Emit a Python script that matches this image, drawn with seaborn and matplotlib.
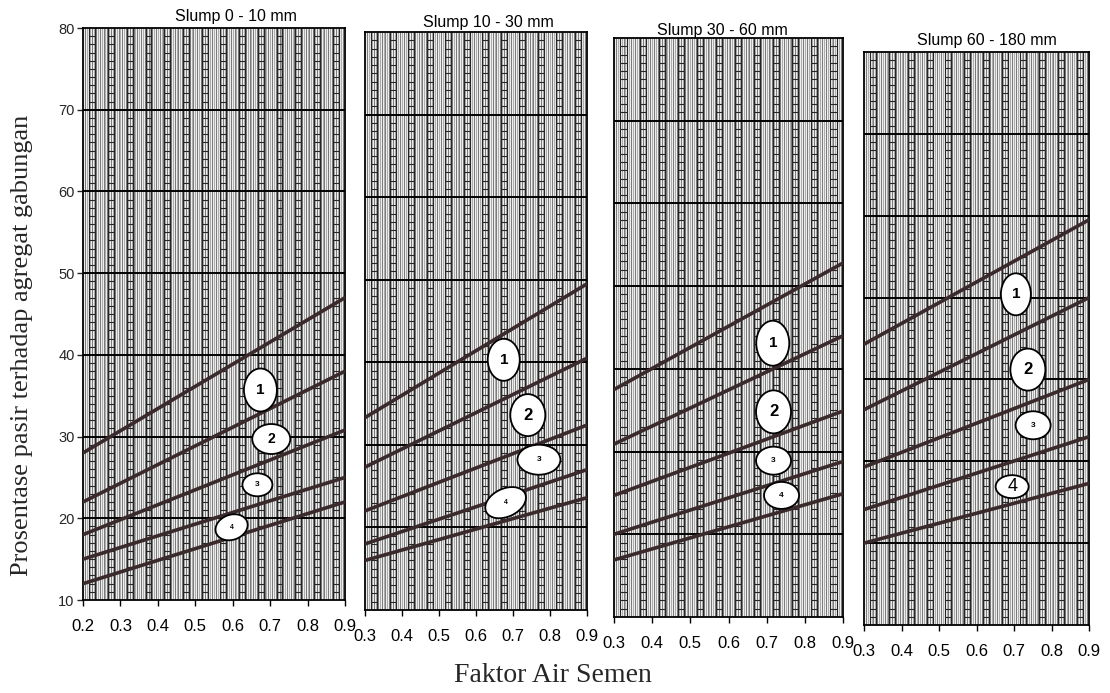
import numpy as np
import pandas as pd
import matplotlib
matplotlib.use("Agg")
import matplotlib.pyplot as plt
import matplotlib.transforms as mtransforms
from matplotlib.patches import Ellipse
from matplotlib.collections import LineCollection
from matplotlib import font_manager
import seaborn as sns

sns.set_theme(style="white")
_names = {f.name for f in font_manager.fontManager.ttflist}
SANS = "Liberation Sans Narrow" if "Liberation Sans Narrow" in _names else "Liberation Sans"
plt.rcParams['font.family'] = [SANS, 'DejaVu Sans']

# ---------------- data ----------------
slump_titles = ["Slump 0 - 10 mm", "Slump 10 - 30 mm", "Slump 30 - 60 mm", "Slump 60 - 180 mm"]
fas_min = [0.2, 0.3, 0.3, 0.3]
fas_max = [0.9, 0.9, 0.9, 0.9]
x_ticks_p1 = [0.2, 0.3, 0.4, 0.5, 0.6, 0.7, 0.8, 0.9]
x_ticks_other = [0.3, 0.4, 0.5, 0.6, 0.7, 0.8, 0.9]
y_ticks = [10, 20, 30, 40, 50, 60, 70, 80]

# boundary lines (5 per panel): value at fas_min and at fas_max
p1_start = [28.0, 22.0, 18.0, 15.0, 12.0]
p1_end = [47.0, 38.0, 30.8, 25.0, 22.0]
p2_start = [33.3, 27.3, 22.0, 18.0, 16.0]
p2_end = [49.5, 40.5, 32.4, 27.0, 23.6]
p3_start = [37.5, 30.9, 24.7, 20.0, 16.9]
p3_end = [52.8, 44.0, 34.9, 28.8, 24.9]
p4_start = [44.3, 36.3, 29.3, 24.1, 20.0]
p4_end = [59.5, 50.0, 40.0, 33.0, 27.3]

zone_labels = ["1", "2", "3", "4"]
p1_label_fas = [0.674, 0.703, 0.666, 0.597]
p1_label_pct = [35.7, 29.7, 24.1, 18.9]
p2_label_fas = [0.675, 0.740, 0.770, 0.680]
p2_label_pct = [40.3, 33.6, 28.2, 23.0]
p3_label_fas = [0.716, 0.718, 0.718, 0.739]
p3_label_pct = [43.1, 34.8, 28.9, 24.7]
p4_label_fas = [0.705, 0.737, 0.751, 0.695]
p4_label_pct = [50.4, 41.2, 34.4, 26.9]

starts = [p1_start, p2_start, p3_start, p4_start]
ends = [p1_end, p2_end, p3_end, p4_end]
label_fas = [p1_label_fas, p2_label_fas, p3_label_fas, p4_label_fas]
label_pct = [p1_label_pct, p2_label_pct, p3_label_pct, p4_label_pct]

# ---------------- layout / style ----------------
W, H = 1110, 693
# panel boxes in pixels: x0, x1, ytop, ybottom
boxes = [(83, 345, 28, 600), (365, 587, 32, 610), (614, 843, 38, 617), (864, 1089, 52, 625)]
title_xy = [(236, 17), (488, 23), (722, 31), (987, 41)]
ell_sizes = [
    [(33, 43, 0), (38, 30, 0), (30, 23, 0), (33, 25, 20)],
    [(32, 42, 0), (35, 42, 0), (43, 30, 0), (43, 28, 25)],
    [(33, 45, 0), (35, 43, 0), (35, 28, 0), (35, 27, 0)],
    [(30, 42, 0), (35, 42, 0), (35, 28, 0), (33, 23, 0)],
]
lab_fs = [[11, 10, 6, 5], [11, 12, 6, 5], [11, 12, 6, 6], [11, 12, 6, 13]]
lab_fw = [["bold", "bold", "bold", "bold"], ["bold", "bold", "bold", "bold"],
          ["bold", "bold", "bold", "bold"], ["bold", "bold", "bold", "normal"]]
line_color = "#3b2a2c"

fig = plt.figure(figsize=(W / 100, H / 100), dpi=100)
fig.patch.set_facecolor("white")

for i in range(4):
    x0, x1, yt, yb = boxes[i]
    ax = fig.add_axes([x0 / W, 1 - yb / H, (x1 - x0) / W, (yb - yt) / H])
    xmin, xmax = fas_min[i], fas_max[i]
    ax.set_xlim(xmin, xmax)
    ax.set_ylim(10, 80)
    ax.set_facecolor("#eeeeee")

    # fine vertical ruling
    fine = np.arange(xmin + 0.005, xmax, 0.01)
    ax.vlines(fine, 10, 80, colors="#4a4a4a", linewidth=0.5, zorder=1)
    fine2 = np.arange(xmin + 0.01, xmax, 0.01)
    ax.vlines(fine2, 10, 80, colors="#7a7a7a", linewidth=0.4, zorder=1)
    # ladders
    centers = np.arange(xmin + 0.025, xmax, 0.05)
    segs = []
    for c in centers:
        for yv in range(10, 80):
            if yv % 10 == 0:
                continue
            segs.append([(c - 0.008, yv), (c + 0.008, yv)])
    ax.add_collection(LineCollection(segs, colors="#262626", linewidths=0.8, zorder=2))
    ax.vlines(np.concatenate([centers - 0.008, centers + 0.008]), 10, 80,
              colors="#262626", linewidth=0.8, zorder=2)
    # major horizontal lines
    ax.hlines(y_ticks[1:-1], xmin, xmax, colors="black", linewidth=1.4, zorder=3)

    # boundary lines via seaborn
    rows = []
    for k in range(5):
        rows.append({"line": k, "fas": xmin, "pct": starts[i][k]})
        rows.append({"line": k, "fas": xmax, "pct": ends[i][k]})
    df = pd.DataFrame(rows)
    sns.lineplot(data=df, x="fas", y="pct", units="line", estimator=None,
                 color=line_color, linewidth=2.6, ax=ax, zorder=4, legend=False)

    # zone labels
    for k in range(4):
        w, h, ang = ell_sizes[i][k]
        tr = fig.dpi_scale_trans + mtransforms.ScaledTranslation(label_fas[i][k], label_pct[i][k], ax.transData)
        e = Ellipse((0, 0), w / 100, h / 100, angle=ang, transform=tr,
                    facecolor="white", edgecolor="black", linewidth=1.3, zorder=5)
        ax.add_patch(e)
        ax.text(label_fas[i][k], label_pct[i][k], zone_labels[k], ha="center", va="center",
                fontsize=lab_fs[i][k], fontweight=lab_fw[i][k], color="black", zorder=6,
                family=["Liberation Sans", "DejaVu Sans"])

    ticks = x_ticks_p1 if i == 0 else x_ticks_other
    ax.set_xticks(ticks)
    ax.set_xticklabels([f"{t:.1f}" for t in ticks], fontsize=12)
    ax.tick_params(axis="x", direction="out", length=4, width=1, pad=10, bottom=True, colors="black")
    if i == 0:
        ax.set_yticks(y_ticks)
        ax.set_yticklabels([str(t) for t in y_ticks], fontsize=10.5)
        ax.tick_params(axis="y", direction="out", length=4, width=1, pad=2, left=True)
    else:
        ax.set_yticks([])
    ax.set_xlabel("")
    ax.set_ylabel("")
    for s in ax.spines.values():
        s.set_visible(True)
        s.set_color("black")
        s.set_linewidth(1.3)
    tx, ty = title_xy[i]
    fig.text(tx / W, 1 - ty / H, slump_titles[i], ha="center", va="center", fontsize=11.5, color="black")

fig.text(22 / W, 1 - 345 / H, "Prosentase pasir terhadap agregat gabungan", rotation=90,
         ha="center", va="center", fontsize=19, family=["Liberation Serif", "DejaVu Serif"])
fig.text(553 / W, 1 - 676 / H, "Faktor Air Semen", ha="center", va="center",
         fontsize=20, family=["Liberation Serif", "DejaVu Serif"])

fig.savefig("out.png", dpi=100, facecolor="white")
